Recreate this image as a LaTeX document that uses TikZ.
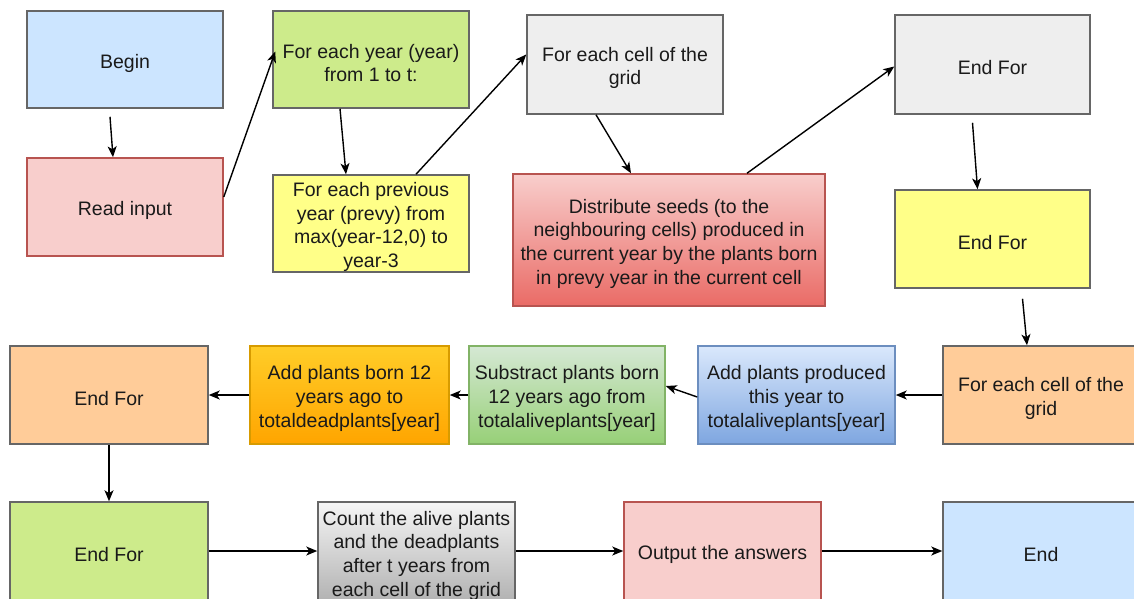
\documentclass[tikz,border=0pt]{standalone}
\usepackage{fontspec}
\setmainfont{Liberation Sans}
\usetikzlibrary{arrows.meta,calc}
\definecolor{cBlue}{HTML}{CCE5FF}
\definecolor{cRed}{HTML}{F8CECC}
\definecolor{bRed}{HTML}{B85450}
\definecolor{cGreen}{HTML}{CDEB8B}
\definecolor{cYellow}{HTML}{FFFF88}
\definecolor{cGray}{HTML}{EEEEEE}
\definecolor{cOrange}{HTML}{FFCC99}
\definecolor{bGray}{HTML}{666666}
\definecolor{txt}{HTML}{1A1A1A}
\definecolor{gRedT}{HTML}{F8CECC}
\definecolor{gRedB}{HTML}{EA6B66}
\definecolor{gBlueT}{HTML}{DAE8FC}
\definecolor{gBlueB}{HTML}{7EA6E0}
\definecolor{bBlue}{HTML}{6C8EBF}
\definecolor{gGreenT}{HTML}{D5E8D4}
\definecolor{gGreenB}{HTML}{97D077}
\definecolor{bGreen}{HTML}{82B366}
\definecolor{gOrT}{HTML}{FFCD28}
\definecolor{gOrB}{HTML}{FFA500}
\definecolor{bOr}{HTML}{D79B00}
\definecolor{gGrT}{HTML}{F5F5F5}
\definecolor{gGrB}{HTML}{B3B3B3}
\begin{document}
\begin{tikzpicture}[x=1pt,y=-1pt,
  box/.style={draw=bGray, line width=1.5pt, minimum width=196pt, minimum height=98pt,
    inner sep=0pt},
  lbl/.style={align=center, text=txt, inner sep=0pt, yshift=-3.5pt,
    font=\fontsize{19.5}{23.7}\selectfont},
  redbox/.style={box, draw=bRed, fill=cRed},
  arr/.style={-{Stealth[length=11pt,width=9pt,inset=3pt]}, line width=1.4pt, draw=black}]
\useasboundingbox (0,0) rectangle (1134,598);
\clip (0,0) rectangle (1134,598);
\fill[white] (0,0) rectangle (1134,598);
% row 1-2
\node[box, fill=cBlue, minimum height=97pt, label={[lbl]center:Begin}] (begin) at (125,59.5) {};
\node[redbox, label={[lbl]center:Read input}] (read) at (125,207) {};
\node[box, fill=cGreen, minimum height=97pt, label={[lbl]center:{For each year (year)\\from 1 to t:}}] (year) at (371,59.5) {};
\node[box, fill=cYellow, minimum height=97pt, label={[lbl]center:{For each previous\\year (prevy) from\\max(year-12,0) to\\year-3}}] (prevy) at (371,223.5) {};
\node[box, fill=cGray, minimum height=99pt, label={[lbl]center:{For each cell of the\\grid}}] (cell) at (625,64.5) {};
\node[box, draw=bRed, top color=gRedT, bottom color=gRedB, minimum width=312pt, minimum height=132pt,
  label={[lbl]center:{Distribute seeds (to the\\neighbouring cells) produced in\\the current year by the plants born\\in prevy year in the current cell}}] (dist) at (669,240) {};
\node[box, fill=cGray, minimum width=195pt, minimum height=99pt, label={[lbl]center:End For}] (ef1) at (992.5,64.5) {};
\node[box, fill=cYellow, minimum width=195pt, label={[lbl]center:End For}] (ef2) at (992.5,239) {};
% row 3
\node[box, fill=cOrange, label={[lbl]center:{For each cell of the\\grid}}] (fcell) at (1041,395) {};
\node[box, draw=bBlue, top color=gBlueT, bottom color=gBlueB, minimum width=197pt,
  label={[lbl]center:{Add plants produced\\this year to\\totalaliveplants[year]}}] (addp) at (796.5,395) {};
\node[box, draw=bGreen, top color=gGreenT, bottom color=gGreenB,
  label={[lbl]center:{Substract plants born\\12 years ago from\\totalaliveplants[year]}}] (subs) at (567,395) {};
\node[box, draw=bOr, top color=gOrT, bottom color=gOrB, minimum width=199pt,
  label={[lbl]center:{Add plants born 12\\years ago to\\totaldeadplants[year]}}] (addd) at (349.5,395) {};
\node[box, fill=cOrange, minimum width=198pt, label={[lbl]center:End For}] (ef3) at (109,395) {};
% row 4
\node[box, fill=cGreen, minimum width=198pt, label={[lbl]center:End For}] (ef4) at (109,551) {};
\node[box, top color=gGrT, bottom color=gGrB, minimum width=197pt,
  label={[lbl, yshift=-1pt]center:{Count the alive plants\\and the deadplants\\after t years from\\each cell of the grid}}] (count) at (416.5,551) {};
\node[redbox, minimum width=197pt, label={[lbl]center:Output the answers}] (out) at (722.5,551) {};
\node[box, fill=cBlue, label={[lbl]center:End}] (end) at (1041,551) {};
% connectors
\draw[arr] ($(begin.south)+(-15,8)$) -- ($(read.north)+(-12,0)$);
\draw[arr] ($(read.east)+(0,-10)$) -- ($(year.west)+(3,-8)$);
\draw[arr] ($(year.south)+(-31,0)$) -- ($(prevy.north)+(-25,0)$);
\draw[arr] ($(prevy.north)+(45,0)$) -- ($(cell.west)+(0,-10)$);
\draw[arr] ($(cell.south)+(-29,0)$) -- ($(dist.north)+(-38,0)$);
\draw[arr] ($(dist.north)+(78,0)$) -- ($(ef1.west)+(0,2)$);
\draw[arr] ($(ef1.south)+(-20,8)$) -- ($(ef2.north)+(-15,0)$);
\draw[arr] ($(ef2.south)+(30,10)$) -- ($(fcell.north)+(-14,0)$);
\draw[arr] (fcell.west) -- (addp.east);
\draw[arr] ($(addp.west)+(0,2)$) -- ($(subs.east)+(0,-9)$);
\draw[arr] (subs.west) -- (addd.east);
\draw[arr] (addd.west) -- (ef3.east);
\draw[arr] (ef3.south) -- (ef4.north);
\draw[arr] (ef4.east) -- (count.west);
\draw[arr] (count.east) -- (out.west);
\draw[arr] (out.east) -- (end.west);
\end{tikzpicture}
\end{document}
